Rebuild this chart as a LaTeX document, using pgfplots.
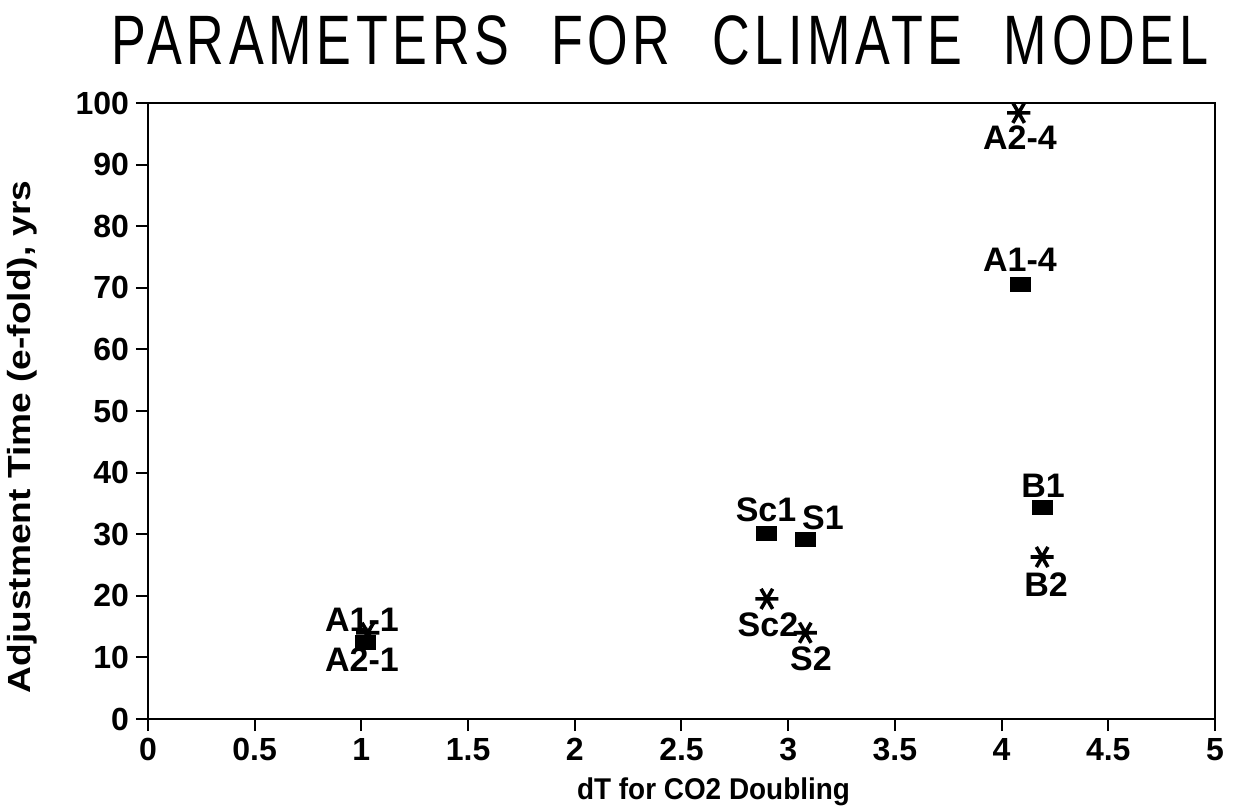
\documentclass[border=0pt]{standalone}
\usepackage{pgfplots}
\pgfplotsset{compat=1.18}
\usepackage{fontspec}
\setmainfont{Liberation Sans}
\newfontfamily\titlefont[LetterSpace=9]{Liberation Sans}
\usepackage{graphicx}
\begin{document}
\begin{tikzpicture}
\begin{axis}[
  at={(0,0)}, anchor=south west,
  scale only axis, width=533.5pt, height=308pt,
  xmin=0, xmax=5, ymin=0, ymax=100,
  xtick={0,0.5,1,1.5,2,2.5,3,3.5,4,4.5,5},
  xticklabels={0,0.5,1,1.5,2,2.5,3,3.5,4,4.5,5},
  ytick={0,10,20,30,40,50,60,70,80,90,100},
  yticklabels={0,10,20,30,40,50,60,70,80,90,100},
  tick pos=left, tick align=outside, major tick length=6pt,
  tick style={black, line width=1pt},
  axis line style={line width=1.3pt},
  tick label style={font=\fontsize{16}{18}\selectfont\bfseries},
  xlabel={\scalebox{0.93}[1]{dT for CO2 Doubling}},
  ylabel={\scalebox{1.16}[1]{Adjustment Time (e-fold), yrs}},
  xlabel style={font=\fontsize{15}{17}\selectfont\bfseries, at={(axis description cs:0.53,0)}, anchor=base, yshift=-40pt},
  ylabel style={font=\fontsize{16}{18}\selectfont\bfseries, at={(axis description cs:-0.118,0.458)}, anchor=center},
  clip=false,
]
\addplot[only marks, mark=square*, mark size=5pt, mark options={yscale=0.7, fill=black}]
  coordinates {(1.02,12.5) (2.90,30.2) (3.08,29.2) (4.09,70.6) (4.19,34.4)};
\addplot[only marks, mark=asterisk, mark size=5.8pt, mark options={rotate=90, line width=1.8pt}]
  coordinates {(1.03,14.0) (2.90,19.5) (3.08,14.0) (4.08,98.4) (4.19,26.3)};
\begin{scope}[every node/.style={font=\fontsize{17}{19}\selectfont\bfseries, inner sep=0pt}]
\node at (axis cs:1.003,16.1) {A1-1};
\node at (axis cs:1.003,9.6) {A2-1};
\node at (axis cs:2.896,33.9) {Sc1};
\node at (axis cs:3.163,32.6) {S1};
\node at (axis cs:2.905,15.3) {Sc2};
\node at (axis cs:3.107,9.7) {S2};
\node at (axis cs:4.086,94.3) {A2-4};
\node at (axis cs:4.086,74.5) {A1-4};
\node at (axis cs:4.194,37.8) {B1};
\node at (axis cs:4.208,21.8) {B2};
\end{scope}
\end{axis}
\node[anchor=base, inner sep=0pt] at (256pt,327pt) {\scalebox{0.745}[1]{\fontsize{35}{40}\selectfont\titlefont PARAMETERS\hspace*{15pt} FOR\hspace*{15pt} CLIMATE\hspace*{15pt} MODEL}};
\pgfresetboundingbox
\path[use as bounding box] (-74pt,-45pt) rectangle (544pt,359.5pt);
\end{tikzpicture}
\end{document}
